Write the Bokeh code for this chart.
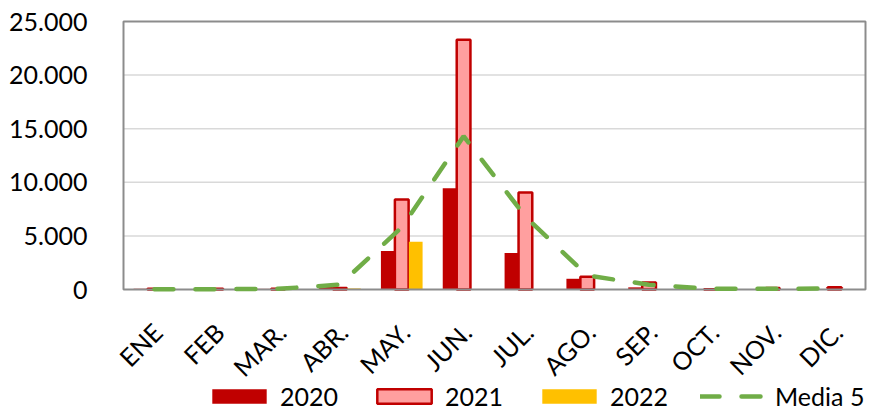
import math
from bokeh.plotting import figure
from bokeh.models import ColumnDataSource, Range1d, FixedTicker, CustomJSTickFormatter, Legend, LegendItem
from bokeh.core.properties import value
from bokeh.transform import dodge
from bokeh.embed import file_html
from bokeh.resources import INLINE

months = ["ENE", "FEB", "MAR.", "ABR.", "MAY.", "JUN.", "JUL.", "AGO.", "SEP.", "OCT.", "NOV.", "DIC."]
y2020 = [80, 20, 60, 400, 3600, 9450, 3400, 1000, 200, 0, 30, 40]
y2021 = [60, 80, 80, 150, 8400, 23300, 9050, 1200, 650, 30, 150, 200]
y2022 = [0, 0, 0, 100, 4450, 0, 0, 0, 0, 0, 0, 0]
media5 = [30, 30, 60, 450, 5800, 14300, 6800, 1300, 450, 60, 60, 100]
y_ticks = [0, 5000, 10000, 15000, 20000, 25000]
legend_labels = ["2020", "2021", "2022", "Media 5"]

n = len(months)
y_min, y_max = y_ticks[0], y_ticks[-1]
xpos = [i + 0.5 for i in range(n)]
src = ColumnDataSource(dict(x=xpos, month=months, y2020=y2020, y2021=y2021, y2022=y2022, media5=media5))

FONT = "Lato"

# layout (pixels)
W, H = 873, 411
plot_left, plot_right, plot_top, plot_bottom = 123, 865, 21, 289
pad, pad_left = 2, 14
upx = (y_max - y_min) / (plot_bottom - plot_top)      # data units per pixel (y)
xpx = n / (plot_right - plot_left)                      # data units per pixel (x)

p = figure(x_range=Range1d(-pad_left * xpx, n + pad * xpx),
           y_range=Range1d(y_min - (H - plot_bottom) * upx, y_max + pad * upx),
           width=W, height=H, output_backend="svg", toolbar_location=None,
           min_border_left=plot_left - pad_left, min_border_right=W - plot_right - pad,
           min_border_top=plot_top - pad, min_border_bottom=0)
p.background_fill_color = "white"
p.border_fill_color = "white"
p.outline_line_color = None
p.xgrid.grid_line_color = None
p.ygrid.grid_line_color = None
p.xaxis.visible = False

p.yaxis.ticker = FixedTicker(ticks=y_ticks)
p.yaxis.formatter = CustomJSTickFormatter(code="return tick.toFixed(0).replace(/\\B(?=(\\d{3})+(?!\\d))/g, '.');")
p.yaxis.axis_line_color = None
p.yaxis.major_tick_line_color = None
p.yaxis.minor_tick_line_color = None
p.yaxis.major_label_standoff = 30 - pad_left
p.yaxis.major_label_text_font = FONT
p.yaxis.major_label_text_font_size = "25px"
p.yaxis.major_label_text_color = "#000000"

# horizontal grid lines at the tick values
p.segment(x0=0, x1=n, y0=y_ticks[1:-1], y1=y_ticks[1:-1], line_color="#D9D9D9", line_width=1.5)

off = 0.226
w = 0.222
r1 = p.vbar(x=dodge("x", -off), top="y2020", width=w, source=src,
            fill_color="#C00000", line_color=None)
r2 = p.vbar(x="x", top="y2021", width=w, source=src,
            fill_color="#FF9F9F", line_color="#C00000", line_width=2.5)
r3 = p.vbar(x=dodge("x", off), top="y2022", width=w, source=src,
            fill_color="#FFC000", line_color=None)

# plot-area border
p.quad(left=0, right=n, bottom=y_min, top=y_max, fill_color=None, line_color="#8C8C8C", line_width=2)

r4 = p.line(x="x", y="media5", source=src, line_color="#70AD47", line_width=4.5,
            line_dash="19 22", line_cap="round")

# rotated month labels
p.text(x="x", y=y_min, text="month", source=src, angle=math.pi / 4,
       text_align="right", text_baseline="middle", x_offset=3, y_offset=38,
       text_font=value(FONT), text_font_size=value("25px"), text_color="#000000")

legend = Legend(items=[LegendItem(label=l, renderers=[r]) for l, r in zip(legend_labels, [r1, r2, r3, r4])],
                orientation="horizontal", location=(205 - plot_left + pad_left, 0),
                glyph_width=68, glyph_height=18, label_standoff=7, spacing=32,
                padding=0, margin=0, border_line_color=None, background_fill_alpha=0,
                label_text_font=FONT, label_text_font_size="25px", label_text_color="#000000")
p.add_layout(legend, "center")

open("out.html", "w").write(file_html(p, INLINE))
